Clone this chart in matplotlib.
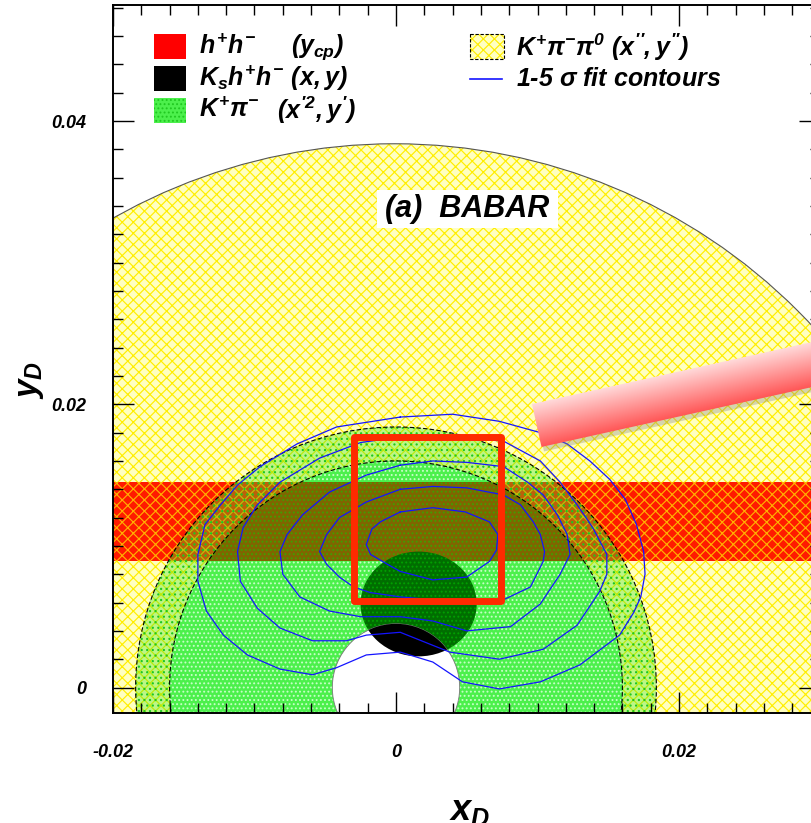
import numpy as np
import matplotlib
matplotlib.use('Agg')
import matplotlib.pyplot as plt
from matplotlib.patches import Circle, Ellipse, Rectangle, Polygon
from matplotlib.ticker import MultipleLocator

plt.rcParams['font.family'] = ['Liberation Sans', 'DejaVu Sans']
plt.rcParams['font.weight'] = 'bold'
plt.rcParams['font.style'] = 'italic'
plt.rcParams['mathtext.fontset'] = 'custom'
plt.rcParams['mathtext.rm'] = 'Liberation Sans:italic:bold'
plt.rcParams['mathtext.it'] = 'Liberation Sans:italic:bold'
plt.rcParams['mathtext.bf'] = 'Liberation Sans:italic:bold'
plt.rcParams['mathtext.sf'] = 'Liberation Sans'
plt.rcParams['hatch.linewidth'] = 0.85

ycp_lo, ycp_hi = 0.0089, 0.0145            # h+h- y_CP band
kpi_r_outer, kpi_r_inner = 0.0184, 0.0160  # K+pi- region, centred on origin
kpi_r_hole = 0.0045                        # excluded around (0,0)
kshh_x, kshh_y = 0.0016, 0.0059            # Ks h+h- (x,y)
kshh_w, kshh_h = 0.0082, 0.0074
kpp0_x, kpp0_y, kpp0_r = -0.0001, -0.0019, 0.0403   # K+pi-pi0
box_x0, box_x1 = -0.0030, 0.0074           # highlighted box
box_y0, box_y1 = 0.0061, 0.0177

# 1-5 sigma fit contours
c1_x = [0.0003, 0.0026, 0.0049, 0.0066, 0.0072, 0.0071, 0.0066, 0.0050, 0.0026, 0.0003,
        -0.0006, -0.0018, -0.0021, -0.0017, -0.0011, 0.0003]
c1_y = [0.0124, 0.0127, 0.0124, 0.0117, 0.0108, 0.0097, 0.0089, 0.0078, 0.0076, 0.0082,
        0.0087, 0.0094, 0.0101, 0.0112, 0.0117, 0.0124]
c2_x = [0.0003, 0.0026, 0.0050, 0.0076, 0.0088, 0.0097, 0.0102, 0.0105, 0.0104, 0.0095,
        0.0076, 0.0050, 0.0026, 0.0003, -0.0018, -0.0030, -0.0040, -0.0049, -0.0054,
        -0.0049, -0.0040, -0.0021, 0.0003]
c2_y = [0.0140, 0.0142, 0.0141, 0.0136, 0.0129, 0.0117, 0.0108, 0.0096, 0.0089, 0.0071,
        0.0062, 0.0062, 0.0062, 0.0064, 0.0067, 0.0071, 0.0078, 0.0087, 0.0096,
        0.0108, 0.0120, 0.0131, 0.0140]
c3_x = [0.0003, 0.0026, 0.0050, 0.0076, 0.0093, 0.0104, 0.0114, 0.0121, 0.0123, 0.0116,
        0.0102, 0.0081, 0.0050, 0.0026, 0.0003, -0.0025, -0.0047, -0.0068, -0.0080,
        -0.0082, -0.0077, -0.0066, -0.0047, -0.0021, 0.0003]
c3_y = [0.0157, 0.0160, 0.0159, 0.0156, 0.0145, 0.0136, 0.0122, 0.0108, 0.0094, 0.0080,
        0.0059, 0.0043, 0.0040, 0.0047, 0.0050, 0.0050, 0.0054, 0.0064, 0.0080,
        0.0096, 0.0108, 0.0122, 0.0138, 0.0150, 0.0157]
c4_x = [0.0003, 0.0038, 0.0076, 0.0102, 0.0116, 0.0128, 0.0139, 0.0149, 0.0149, 0.0144,
        0.0128, 0.0104, 0.0073, 0.0038, 0.0003, -0.0021, -0.0035, -0.0059, -0.0082,
        -0.0098, -0.0110, -0.0112, -0.0108, -0.0098, -0.0082, -0.0054, -0.0025, 0.0003]
c4_y = [0.0177, 0.0177, 0.0174, 0.0160, 0.0145, 0.0129, 0.0113, 0.0094, 0.0080, 0.0068,
        0.0044, 0.0027, 0.0020, 0.0025, 0.0039, 0.0037, 0.0033, 0.0033, 0.0042,
        0.0056, 0.0075, 0.0096, 0.0113, 0.0129, 0.0145, 0.0162, 0.0173, 0.0177]
c5_x = [0.0003, 0.0040, 0.0073, 0.0102, 0.0121, 0.0137, 0.0151, 0.0162, 0.0170, 0.0175,
        0.0176, 0.0173, 0.0168, 0.0158, 0.0130, 0.0102, 0.0073, 0.0047, 0.0026, 0.0003,
        -0.0021, -0.0042, -0.0059, -0.0082, -0.0105, -0.0122, -0.0134, -0.0140, -0.0140,
        -0.0135, -0.0124, -0.0112, -0.0096, -0.0070, -0.0042, 0.0003]
c5_y = [0.0191, 0.0193, 0.0188, 0.0180, 0.0172, 0.0160, 0.0147, 0.0133, 0.0115, 0.0096,
        0.0080, 0.0064, 0.0053, 0.0037, 0.0016, 0.0004, -0.0001, 0.0004, 0.0018, 0.0025,
        0.0023, 0.0014, 0.0009, 0.0013, 0.0023, 0.0037, 0.0054, 0.0075, 0.0094,
        0.0115, 0.0129, 0.0143, 0.0156, 0.0172, 0.0184, 0.0191]
contours = [(c1_x, c1_y), (c2_x, c2_y), (c3_x, c3_y), (c4_x, c4_y), (c5_x, c5_y)]

x_ticks = [-0.02, 0, 0.02]
x_labels = ['-0.02', '0', '0.02']
y_ticks = [0, 0.02, 0.04]
y_labels = ['0', '0.02', '0.04']

fig = plt.figure(figsize=(8.12, 8.23), dpi=100)
ax = fig.add_axes([113 / 812, 110 / 823, 707.5 / 812, 708 / 823])
ax.set_xlim(-0.02, 0.03)
ax.set_ylim(-0.0018, 0.0482)

# K+pi-pi0 : yellow hatch
ax.add_patch(Circle((kpp0_x, kpp0_y), kpp0_r, facecolor='#ffffc0', edgecolor='#ffee00',
                    hatch='xxx', lw=0, zorder=1.0))
ax.add_patch(Circle((kpp0_x, kpp0_y), kpp0_r, facecolor='none', edgecolor='#555555',
                    lw=0.8, zorder=1.05))
# h+h- y_CP band
ax.axhspan(ycp_lo, ycp_hi, facecolor='#ff1a00', edgecolor='#ffb000', hatch='xxx',
           lw=0, zorder=1.1)
# K+pi- region (outer ring hatched, inner filled)
ax.add_patch(Circle((0, 0), kpi_r_outer, facecolor=(0.25, 0.9, 0.1, 0.35),
                    edgecolor='#20c820', hatch='...', lw=0, zorder=1.2))
inner = Circle((0, 0), kpi_r_inner, facecolor='#4cf04c', edgecolor='#c8ffc8',
               hatch='....', lw=0, zorder=1.3)
ax.add_patch(inner)
olive = ax.axhspan(ycp_lo, ycp_hi, facecolor='#7f6600', edgecolor='#40a000',
                   hatch='....', lw=0, zorder=1.35)
olive.set_clip_path(inner)
# Ks h+h-
ax.add_patch(Ellipse((kshh_x, kshh_y), kshh_w, kshh_h, facecolor='#006e00',
                     edgecolor='#00a000', hatch='....', lw=0, zorder=1.4))
hole = Circle((0, 0), kpi_r_hole, facecolor='white', edgecolor='#777777', lw=0.6, zorder=1.5)
ax.add_patch(hole)
blk = Ellipse((kshh_x, kshh_y), kshh_w, kshh_h, facecolor='black', lw=0, zorder=1.6)
ax.add_patch(blk)
blk.set_clip_path(hole)
for r in (kpi_r_outer, kpi_r_inner):
    ax.add_patch(Circle((0, 0), r, fill=False, edgecolor='black', lw=0.8,
                        ls=(0, (4, 2)), zorder=1.7))

for cx, cy in contours:
    ax.plot(cx, cy, color='#1414ff', lw=0.9, zorder=3)

ax.add_patch(Rectangle((box_x0, box_y0), box_x1 - box_x0, box_y1 - box_y0, fill=False,
                       edgecolor='#ff2a00', lw=5, joinstyle='round', zorder=4))

ax.set_xticks(x_ticks)
ax.set_xticklabels(x_labels, fontsize=13, fontweight='bold', fontstyle='italic')
ax.set_yticks(y_ticks)
ax.set_yticklabels(y_labels, fontsize=13, fontweight='bold', fontstyle='italic')
ax.xaxis.set_minor_locator(MultipleLocator(0.002))
ax.yaxis.set_minor_locator(MultipleLocator(0.002))
ax.tick_params(which='both', direction='in', top=True, right=True, width=1, zorder=5)
ax.tick_params(which='major', length=15)
ax.tick_params(which='minor', length=7.5)
ax.tick_params(axis='x', pad=22)
ax.tick_params(axis='y', pad=19)
for s in ax.spines.values():
    s.set_linewidth(1.4)
    s.set_zorder(5)

# overlay in pixel units for legend, titles and the slide arrow
ov = fig.add_axes([0, 0, 1, 1])
ov.axis('off')

ov.add_patch(Rectangle((154, 34), 32, 25, facecolor='#ff0000', lw=0))
ov.add_patch(Rectangle((154, 66), 32, 25, facecolor='black', lw=0))
ov.add_patch(Rectangle((154, 98), 32, 25, facecolor='#4cf04c', edgecolor='#20c820',
                       hatch='....', lw=0))
ov.add_patch(Rectangle((470, 34), 34, 25, facecolor='#ffffc0', edgecolor='#ffee00',
                       hatch='xxx', lw=0))
ov.add_patch(Rectangle((470, 34), 34, 25, fill=False, edgecolor='black', lw=0.8,
                       ls=(0, (3, 1.5))))
ov.plot([470, 502], [79, 79], color='#1414ff', lw=1.2)

fs = 18
ov.text(199, 47, r'$h^{+}h^{-}$', fontsize=fs, va='center')
ov.text(291, 47, r'$(y_{cp})$', fontsize=fs, va='center')
ov.text(199, 78, r'$K_{s}h^{+}h^{-}\ (x,y)$', fontsize=fs, va='center')
ov.text(199, 110, r'$K^{+}\mathsf{\pi}^{-}$', fontsize=fs, va='center')
ov.text(277, 110, r'$(x^{\prime 2},y^{\prime})$', fontsize=fs, va='center')
ov.text(516, 47, r'$K^{+}\mathsf{\pi}^{-}\mathsf{\pi}^{0}\ (x^{\prime\prime},y^{\prime\prime})$',
        fontsize=fs, va='center')
ov.text(516, 79, r'1-5 $\mathsf{\sigma}$ fit contours', fontsize=fs, va='center')

ov.add_patch(Rectangle((377, 190), 181, 38, facecolor='white', lw=0, zorder=3))
ov.text(467, 209, '(a)  BABAR', fontsize=22, ha='center', va='center', zorder=4)

ov.text(31, 380, r'$y_{D}$', fontsize=24, rotation=90, ha='center', va='center')
ov.text(470, 810, r'$x_{D}$', fontsize=26, ha='center', va='center')

# pink slide arrow
tl = np.array([532.0, 404.0])
d = np.array([0.976, -0.216])
n = np.array([0.216, 0.976])
w, L = 44.0, 340.0
corners = np.array([tl, tl + w * n, tl + w * n + L * d, tl + L * d])
ov.add_patch(Polygon(corners + np.array([2.5, 4.5]), closed=True, facecolor='#888888',
                     alpha=0.35, lw=0, zorder=5))
bar = Polygon(corners, closed=True, facecolor='none', lw=0, zorder=6)
ov.add_patch(bar)
gx, gy = np.meshgrid(np.arange(520, 813), np.arange(320, 471))
t = np.clip(((gx - tl[0]) * n[0] + (gy - tl[1]) * n[1]) / w, 0, 1)
top_c = np.array([1.0, 0.85, 0.85])
bot_c = np.array([1.0, 0.33, 0.33])
img = top_c + (bot_c - top_c) * t[..., None]
im = ov.imshow(img, extent=(520, 813, 471, 320), origin='upper', interpolation='bilinear',
               zorder=6)
im.set_clip_path(bar)

ov.set_aspect('auto')
ov.set_xlim(0, 812)
ov.set_ylim(823, 0)

fig.savefig('out.png', dpi=100)
